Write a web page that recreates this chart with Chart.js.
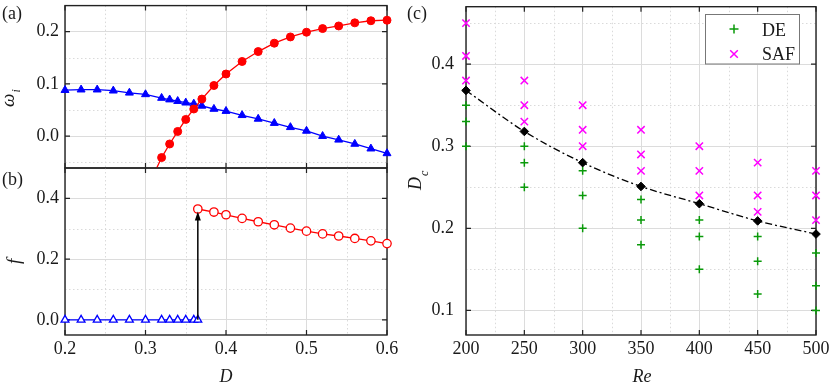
<!DOCTYPE html>
<html><head><meta charset="utf-8">
<script src="https://cdn.jsdelivr.net/npm/chart.js@4/dist/chart.umd.min.js"></script>
<style>
html,body{margin:0;padding:0;background:#fff;}
#wrap{position:relative;width:831px;height:384px;overflow:hidden;background:#fff;}
canvas{position:absolute;left:0;top:0;width:831px;height:384px;}
.pre{position:absolute;left:-999px;top:0;font-family:"Liberation Serif";font-size:18px;}
</style></head><body>
<span class="pre">0.1 DE SAF</span><span class="pre" style="font-style:italic">D Re ω f</span>
<div id="wrap">
<canvas id="ca" width="831" height="384"></canvas>
<canvas id="cb" width="831" height="384"></canvas>
<canvas id="cc" width="831" height="384"></canvas>
</div>
<script>
// ---------- data: panel (a) ----------
const D_A_RED = [0.31, 0.32, 0.33, 0.34, 0.35, 0.36, 0.37, 0.385, 0.40, 0.42, 0.44, 0.46, 0.48, 0.50, 0.52, 0.54, 0.56, 0.58, 0.60];
const W_A_RED = [-0.074, -0.041, -0.015, 0.009, 0.032, 0.052, 0.071, 0.097, 0.119, 0.143, 0.162, 0.178, 0.190, 0.199, 0.206, 0.211, 0.217, 0.221, 0.222];
const D_A_BLUE = [0.20, 0.22, 0.24, 0.26, 0.28, 0.30, 0.32, 0.33, 0.34, 0.35, 0.36, 0.37, 0.385, 0.40, 0.42, 0.44, 0.46, 0.48, 0.50, 0.52, 0.54, 0.56, 0.58, 0.60];
const W_A_BLUE = [0.088, 0.089, 0.089, 0.087, 0.083, 0.080, 0.073, 0.070, 0.067, 0.064, 0.062, 0.058, 0.052, 0.048, 0.040, 0.033, 0.025, 0.017, 0.010, 0.000, -0.007, -0.015, -0.024, -0.033];
// ---------- data: panel (b) ----------
const D_B_BLUE = [0.20, 0.22, 0.24, 0.26, 0.28, 0.30, 0.32, 0.33, 0.34, 0.35, 0.36, 0.365];
const F_B_BLUE = [0, 0, 0, 0, 0, 0, 0, 0, 0, 0, 0, 0];
const D_B_RED = [0.365, 0.385, 0.40, 0.42, 0.44, 0.46, 0.48, 0.50, 0.52, 0.54, 0.56, 0.58, 0.60];
const F_B_RED = [0.365, 0.355, 0.346, 0.334, 0.323, 0.313, 0.302, 0.292, 0.283, 0.276, 0.268, 0.260, 0.251];
const ARROW_D = 0.365;
const ARROW_F = [0, 0.357];
// ---------- data: panel (c) ----------
const RE = [200, 250, 300, 350, 400, 450, 500];
const DC = [0.368, 0.318, 0.280, 0.251, 0.230, 0.209, 0.193];
const DE_VALS = [[0.35, 0.33, 0.30], [0.30, 0.28, 0.25], [0.27, 0.24, 0.20], [0.235, 0.21, 0.18], [0.21, 0.19, 0.15], [0.19, 0.16, 0.12], [0.17, 0.13, 0.10]];
const SAF_VALS = [[0.45, 0.41, 0.38], [0.38, 0.35, 0.33], [0.35, 0.32, 0.30], [0.32, 0.29, 0.27], [0.30, 0.27, 0.24], [0.28, 0.24, 0.22], [0.27, 0.24, 0.21]];
// ---------- ticks ----------
const D_TICKS = [0.2, 0.3, 0.4, 0.5, 0.6];
const D_MINOR = [0.25, 0.35, 0.45, 0.55];
const W_TICKS = [0.0, 0.1, 0.2];
const W_MINOR = [-0.05, 0.05, 0.15];
const F_TICKS = [0.0, 0.2, 0.4];
const F_MINOR = [0.1, 0.3];
const RE_TICKS = [200, 250, 300, 350, 400, 450, 500];
const RE_MINOR = [225, 275, 325, 375, 425, 475];
const DC_TICKS = [0.1, 0.2, 0.3, 0.4];
const DC_MINOR = [0.15, 0.25, 0.35, 0.45];

const SERIF = "'Liberation Serif', serif";
const TXT = '#1a1a1a';
const GRID_MAJOR = '#dcdcdc';
const GRID_MINOR = '#dadada';
const RED = '#ff0000', BLUE = '#0000ff', GREEN = '#0a9a0a', MAGENTA = '#ff00ff';

const pts = (xs, ys) => xs.map((v, i) => ({x: v, y: ys[i]}));
const groupPts = (xs, groups) => xs.flatMap((v, i) => groups[i].map(g => ({x: v, y: g})));

const framePlugin = {
  id: 'frame',
  beforeDatasetsDraw(chart, args, o) {
    const {ctx, chartArea: a} = chart;
    const x = chart.scales.x, y = chart.scales.y;
    ctx.save();
    ctx.strokeStyle = GRID_MINOR; ctx.lineWidth = 1; ctx.setLineDash([1.5, 2.5]);
    ctx.beginPath();
    for (const v of o.xMinor) { const p = Math.round(x.getPixelForValue(v)) + 0.5; ctx.moveTo(p, a.top); ctx.lineTo(p, a.bottom); }
    for (const v of o.yMinor) { const p = Math.round(y.getPixelForValue(v)) + 0.5; ctx.moveTo(a.left, p); ctx.lineTo(a.right, p); }
    ctx.stroke();
    ctx.setLineDash([]);
    ctx.strokeStyle = '#222'; ctx.lineWidth = 1.4;
    ctx.strokeRect(a.left, a.top, a.right - a.left, a.bottom - a.top);
    ctx.lineWidth = 1.2; ctx.beginPath();
    const L = 5;
    for (const v of o.xMajor) { const p = x.getPixelForValue(v); ctx.moveTo(p, a.top); ctx.lineTo(p, a.top + L); ctx.moveTo(p, a.bottom); ctx.lineTo(p, a.bottom - L); }
    for (const v of o.yMajor) { const p = y.getPixelForValue(v); ctx.moveTo(a.left, p); ctx.lineTo(a.left + L, p); ctx.moveTo(a.right, p); ctx.lineTo(a.right - L, p); }
    ctx.stroke();
    ctx.restore();
  }
};

function drawRot(ctx, xBase, yStart, parts) {
  ctx.save(); ctx.translate(xBase, yStart); ctx.rotate(-Math.PI / 2);
  ctx.textBaseline = 'alphabetic'; ctx.textAlign = 'left'; ctx.fillStyle = TXT;
  let cx = 0;
  for (const p of parts) { ctx.font = p.font; cx += (p.dx || 0); ctx.fillText(p.t, cx, p.dy || 0); cx += ctx.measureText(p.t).width; }
  ctx.restore();
}
function drawText(ctx, t, x, y, font, align) {
  ctx.save(); ctx.font = font; ctx.fillStyle = TXT; ctx.textAlign = align || 'left'; ctx.textBaseline = 'alphabetic';
  ctx.fillText(t, x, y); ctx.restore();
}
const IT = s => 'italic ' + s + 'px ' + SERIF;
const RG = s => s + 'px ' + SERIF;

const textPlugin = {
  id: 'texts',
  afterDraw(chart, args, o) { o.draw(chart.ctx, chart); }
};

function fixTicks(list) { return s => { s.ticks = list.map(v => ({value: v})); }; }
function yAxis(min, max, list, width, pad) {
  return {
    type: 'linear', position: 'left', min, max, bounds: 'data',
    afterBuildTicks: fixTicks(list),
    ticks: {font: {family: SERIF, size: 18}, color: TXT, padding: pad, autoSkip: false, callback: v => Number(v).toFixed(1)},
    grid: {color: GRID_MAJOR, drawTicks: false, lineWidth: 1},
    border: {display: false},
    afterFit: s => { s.width = width; s.paddingTop = 0; s.paddingBottom = 0; }
  };
}
function xAxis(min, max, list, height, showLabels, fmt) {
  return {
    type: 'linear', position: 'bottom', min, max, bounds: 'data',
    afterBuildTicks: fixTicks(list),
    ticks: {display: showLabels, font: {family: SERIF, size: 18}, color: TXT, padding: 3, autoSkip: false, maxRotation: 0, callback: fmt},
    grid: {color: GRID_MAJOR, drawTicks: false, lineWidth: 1},
    border: {display: false},
    afterFit: s => { s.height = height; s.paddingLeft = 0; s.paddingRight = 0; }
  };
}
const common = {
  responsive: false, animation: false, devicePixelRatio: 1, events: [],
};
const NOCLIP = {left: false, top: false, right: false, bottom: false};

function build() {
Chart.defaults.font.family = SERIF;
// ---------- chart (a) ----------
new Chart(document.getElementById('ca'), {
  type: 'scatter',
  data: {datasets: [
    {data: pts(D_A_RED, W_A_RED), showLine: true, borderColor: RED, borderWidth: 1.3, pointStyle: 'circle', pointRadius: 4,
     pointBackgroundColor: RED, pointBorderColor: RED, pointBorderWidth: 1, clip: {left: false, top: false, right: false, bottom: 0}},
    {data: pts(D_A_BLUE, W_A_BLUE), showLine: true, borderColor: BLUE, borderWidth: 1.3, pointStyle: 'triangle', pointRadius: 4.6,
     pointBackgroundColor: BLUE, pointBorderColor: BLUE, pointBorderWidth: 1, clip: NOCLIP}
  ]},
  options: Object.assign({}, common, {
    layout: {padding: {left: 0, right: 444, top: 1, bottom: 0}},
    scales: {
      x: xAxis(0.2, 0.6, D_TICKS, 216, false, v => Number(v).toFixed(1)),
      y: yAxis(-0.061, 0.25, W_TICKS, 65, 6)
    },
    plugins: {
      legend: {display: false}, tooltip: {enabled: false},
      frame: {xMinor: D_MINOR, yMinor: W_MINOR, xMajor: D_TICKS, yMajor: W_TICKS},
      texts: {draw: (ctx) => {
        drawText(ctx, '(a)', 2, 19, RG(18));
        drawRot(ctx, 14, 107, [{t: 'ω', font: IT(19)}, {t: 'i', font: IT(12), dx: 1, dy: 6}]);
      }}
    }
  }),
  plugins: [framePlugin, textPlugin]
});

// ---------- chart (b) ----------
const arrowPlugin = {
  id: 'arrow',
  afterDatasetsDraw(chart) {
    const {ctx} = chart; const x = chart.scales.x, y = chart.scales.y;
    const px = x.getPixelForValue(ARROW_D), y0 = y.getPixelForValue(ARROW_F[0]), y1 = y.getPixelForValue(ARROW_F[1]);
    ctx.save(); ctx.strokeStyle = '#000'; ctx.fillStyle = '#000'; ctx.lineWidth = 1.5;
    ctx.beginPath(); ctx.moveTo(px, y0); ctx.lineTo(px, y1 + 7); ctx.stroke();
    ctx.beginPath(); ctx.moveTo(px, y1); ctx.lineTo(px - 3, y1 + 9); ctx.lineTo(px + 3, y1 + 9); ctx.closePath(); ctx.fill();
    ctx.restore();
  }
};
new Chart(document.getElementById('cb'), {
  type: 'scatter',
  data: {datasets: [
    {data: pts(D_B_RED, F_B_RED), showLine: true, borderColor: RED, borderWidth: 1.3, pointStyle: 'circle', pointRadius: 4.2,
     pointBackgroundColor: '#fff', pointBorderColor: RED, pointBorderWidth: 1.3, clip: NOCLIP},
    {data: pts(D_B_BLUE, F_B_BLUE), showLine: true, borderColor: BLUE, borderWidth: 1.3, pointStyle: 'triangle', pointRadius: 4.5,
     pointBackgroundColor: '#fff', pointBorderColor: BLUE, pointBorderWidth: 1.3, clip: NOCLIP}
  ]},
  options: Object.assign({}, common, {
    layout: {padding: {left: 0, right: 444, top: 168, bottom: 0}},
    scales: {
      x: xAxis(0.2, 0.6, D_TICKS, 49, true, v => Number(v).toFixed(1)),
      y: yAxis(-0.05, 0.5, F_TICKS, 65, 6)
    },
    plugins: {
      legend: {display: false}, tooltip: {enabled: false},
      frame: {xMinor: D_MINOR, yMinor: F_MINOR, xMajor: D_TICKS, yMajor: F_TICKS},
      texts: {draw: (ctx) => {
        drawText(ctx, '(b)', 2, 185, RG(18));
        drawRot(ctx, 20, 264, [{t: 'f', font: IT(19)}]);
        drawText(ctx, 'D', 226, 382, IT(18), 'center');
      }}
    }
  }),
  plugins: [framePlugin, arrowPlugin, textPlugin]
});

// ---------- chart (c) ----------
function legendMark(ctx, kind, x, y, color) {
  ctx.save(); ctx.strokeStyle = color; ctx.lineWidth = 1.5; ctx.beginPath();
  if (kind === 'cross') { ctx.moveTo(x - 4.5, y); ctx.lineTo(x + 4.5, y); ctx.moveTo(x, y - 4.5); ctx.lineTo(x, y + 4.5); }
  else { const r = 3.8; ctx.moveTo(x - r, y - r); ctx.lineTo(x + r, y + r); ctx.moveTo(x - r, y + r); ctx.lineTo(x + r, y - r); }
  ctx.stroke(); ctx.restore();
}
new Chart(document.getElementById('cc'), {
  type: 'scatter',
  data: {datasets: [
    {label: 'Dc', data: pts(RE, DC), showLine: true, borderColor: '#000', borderWidth: 1.3, borderDash: [7, 3, 2, 3],
     cubicInterpolationMode: 'monotone', pointStyle: 'rectRot', pointRadius: 4.3, pointBackgroundColor: '#000', pointBorderColor: '#000',
     pointBorderWidth: 1, clip: NOCLIP},
    {label: 'DE', data: groupPts(RE, DE_VALS), pointStyle: 'cross', pointRadius: 4, borderColor: GREEN, pointBorderColor: GREEN,
     pointBorderWidth: 1.5, clip: NOCLIP},
    {label: 'SAF', data: groupPts(RE, SAF_VALS), pointStyle: 'crossRot', pointRadius: 5.2, borderColor: MAGENTA, pointBorderColor: MAGENTA,
     pointBorderWidth: 1.5, clip: NOCLIP}
  ]},
  options: Object.assign({}, common, {
    layout: {padding: {left: 400, right: 15, top: 1, bottom: 0}},
    scales: {
      x: xAxis(200, 500, RE_TICKS, 49, true, v => String(v)),
      y: yAxis(0.07, 0.47, DC_TICKS, 66, 12)
    },
    plugins: {
      legend: {display: false}, tooltip: {enabled: false},
      frame: {xMinor: RE_MINOR, yMinor: DC_MINOR, xMajor: RE_TICKS, yMajor: DC_TICKS},
      texts: {draw: (ctx, chart) => {
        drawText(ctx, '(c)', 407, 19, RG(18));
        drawRot(ctx, 421, 190, [{t: 'D', font: IT(18)}, {t: 'c', font: IT(12), dx: 1, dy: 7}]);
        drawText(ctx, 'Re', 642, 382, IT(18), 'center');
        ctx.save(); ctx.fillStyle = '#fff'; ctx.strokeStyle = '#777'; ctx.lineWidth = 1;
        ctx.fillRect(705.5, 14.5, 94, 49.5); ctx.strokeRect(705.5, 14.5, 94, 49.5); ctx.restore();
        const ds = chart.data.datasets;
        legendMark(ctx, 'cross', 734, 29, ds[1].pointBorderColor);
        legendMark(ctx, 'x', 734, 54, ds[2].pointBorderColor);
        drawText(ctx, ds[1].label, 762, 36, RG(18));
        drawText(ctx, ds[2].label, 762, 60, RG(18));
      }}
    }
  }),
  plugins: [framePlugin, textPlugin]
});
}

let built = false;
function go() { if (!built) { built = true; build(); } }
if (document.fonts && document.fonts.load) {
  Promise.all([
    document.fonts.load("18px 'Liberation Serif'"),
    document.fonts.load("italic 18px 'Liberation Serif'")
  ]).then(go, go);
  setTimeout(go, 1500);
} else { go(); }
</script>
</body></html>
